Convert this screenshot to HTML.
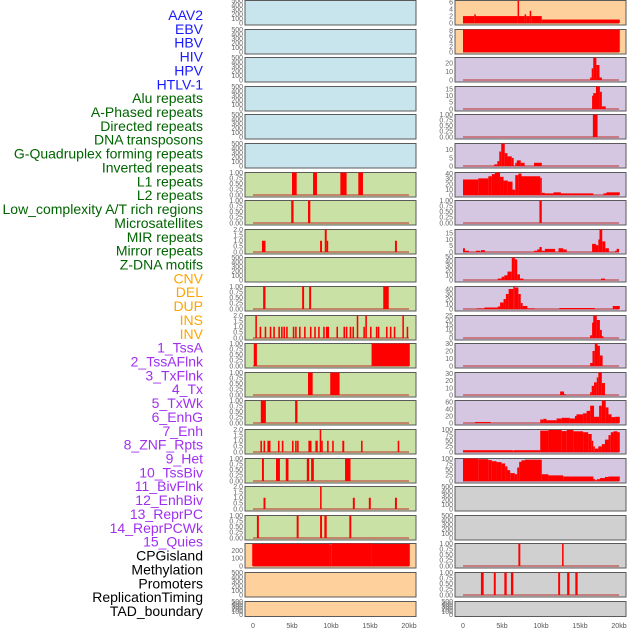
<!DOCTYPE html>
<html><head><meta charset="utf-8"><style>
html,body{margin:0;padding:0;background:#fff;}
svg{display:block;font-family:"Liberation Sans",sans-serif;}
</style></head><body>
<svg id="chart" width="630" height="630" viewBox="0 0 630 630"></svg>
<script>
const NS="http://www.w3.org/2000/svg";
const labels=["AAV2","EBV","HBV","HIV","HPV","HTLV-1","Alu repeats","A-Phased repeats","Directed repeats","DNA transposons","G-Quadruplex forming repeats","Inverted repeats","L1 repeats","L2 repeats","Low_complexity A/T rich regions","Microsatellites","MIR repeats","Mirror repeats","Z-DNA motifs","CNV","DEL","DUP","INS","INV","1_TssA","2_TssAFlnk","3_TxFlnk","4_Tx","5_TxWk","6_EnhG","7_Enh","8_ZNF_Rpts","9_Het","10_TssBiv","11_BivFlnk","12_EnhBiv","13_ReprPC","14_ReprPCWk","15_Quies","CPGisland","Methylation","Promoters","ReplicationTiming","TAD_boundary"];
const labelGroups=[6,13,5,15,5];
const groupColors=["#1a1aff","#006400","#ffa500","#a030f0","#000000"];
const xTicks=[0,5,10,15,20];
const xTickLabels=["0","5kb","10kb","15kb","20kb"];
const m7=[[5.0,5.6,1],[7.7,8.2,1],[11.2,12.0,1],[13.5,14.1,1]];
const m8=[[4.9,5.2,1],[7.05,7.35,1]];
const m9=[[1.15,1.6,1],[8.6,8.85,1],[9.2,9.45,2],[9.45,9.6,1],[18.2,18.45,1]];
const m11=[[1.3,1.6,1],[6.3,6.55,1],[7.2,7.45,1],[16.7,17.4,1]];
const m12=[[0.3,0.5,2],[0.85,1.05,1],[1.5,1.7,1],[2.15,2.35,1],[2.6,2.8,1],[3.25,3.45,1],[3.6,3.8,1],[3.9,4.1,1],[4.25,4.45,1],[5.1,5.3,1],[5.4,5.6,1],[5.9,6.1,1],[6.55,6.75,1],[7.3,7.5,1],[7.85,8.05,1],[8.35,8.55,1],[9.0,9.2,1],[9.35,9.55,1],[9.55,9.75,1],[10.7,10.9,1],[11.6,11.8,1],[11.9,12.1,1],[12.4,12.6,1],[12.75,12.95,1],[13.3,13.5,2],[14.15,14.35,1],[14.4,14.6,2],[15.0,15.2,1],[15.75,15.95,1],[16.0,16.2,1],[17.05,17.25,1],[17.55,17.75,1],[18.05,18.25,1],[19.15,19.35,2],[19.7,19.9,1]];
const m13=[[0.1,0.5,1],[15.2,20.1,1]];
const m14=[[7.05,7.65,1],[9.9,11.1,1]];
const m15=[[1.0,1.65,1],[5.4,5.7,1]];
const m16=[[0.95,1.15,1],[1.35,1.55,1],[1.85,2.05,1],[2.05,2.2,1],[3.2,3.4,1],[3.7,3.9,1],[5.0,5.2,1],[5.4,5.6,1],[5.65,5.85,1],[7.1,7.5,1],[8.0,8.3,1],[8.55,8.75,2],[8.75,8.85,1],[9.5,9.7,1],[10.15,10.35,1],[11.45,11.7,1],[13.85,14.05,1],[18.55,18.75,1]];
const m17=[[1.15,1.4,1],[2.95,3.45,1],[4.2,4.55,1],[6.9,7.2,1],[7.45,7.8,1],[11.8,12.5,1]];
const m18=[[1.35,1.6,1],[8.6,8.8,2],[12.8,13.05,1],[14.85,15.1,1],[18.2,18.45,1]];
const m19=[[0.5,0.75,1],[5.6,5.85,1],[8.6,8.85,1],[9.15,9.45,1],[12.35,12.6,1]];
const m20=[[-0.1,9.8,285],[9.8,10.1,280],[10.1,15.2,290],[15.2,20.1,285]];
const r1=[[0,1.45,2],[1.45,1.6,2.5],[1.6,7.0,2],[7.0,7.15,6.5],[7.15,7.9,2],[7.9,8.1,2.5],[8.1,8.55,2],[8.55,8.75,3.5],[8.75,10.1,2],[10.1,20.1,1]];
const r2=[[0,20.1,8.5]];
const r3=[[16.3,16.5,3],[16.5,16.7,14],[16.7,17.1,27],[17.1,17.5,18],[17.5,17.8,3]];
const r4=[[16.55,16.7,10],[16.7,17.05,12],[17.05,17.55,17],[17.55,17.8,13],[17.8,18.3,2]];
const r5=[[16.65,17.25,1]];
const r6=[[4.0,4.4,1],[4.4,4.65,3],[4.65,4.9,9],[4.9,5.35,14],[5.35,5.7,8],[5.7,6.25,6],[6.25,6.5,5],[6.7,6.9,2],[6.9,7.4,3.5],[7.4,7.9,2],[9.1,10.1,2]];
const r7=[[0,1.95,29],[1.95,3.25,31],[3.25,3.7,35],[3.7,4.1,39],[4.1,4.75,42],[4.75,5.2,34],[5.2,5.75,27],[5.75,6.35,25],[6.35,6.7,10],[6.7,7.1,37],[7.1,7.5,40],[7.5,9.9,35],[9.9,10.1,32],[10.1,10.5,4],[10.5,11.6,3],[11.6,12.55,5],[12.55,16.7,3],[18.0,18.4,3],[18.4,20.1,5]];
const r8=[[9.8,10.1,1]];
const r9=[[0,0.25,3],[0.25,0.75,1],[1.65,2.2,1],[2.3,2.8,1.5],[9.1,9.5,1],[9.5,9.8,2],[9.8,10.1,4],[10.1,10.5,1],[10.5,11.8,2.5],[12.25,12.85,3],[12.85,13.3,2],[16.55,17.05,6.5],[17.05,17.35,5.5],[17.35,17.5,10],[17.5,17.85,18],[17.85,18.25,8.5],[18.25,18.7,3],[19.5,19.7,1],[19.7,20.0,2.5]];
const r10=[[4.45,4.95,3],[4.95,5.3,7],[5.3,5.7,10],[5.7,6.25,18],[6.25,6.65,48],[6.65,6.95,44],[6.95,7.3,12],[7.3,7.75,3],[17.7,18.2,3]];
const r11=[[1.75,2.75,1],[2.75,4.45,3],[4.45,4.75,5],[4.75,5.2,13],[5.2,5.5,20],[5.5,5.85,30],[5.85,6.45,40],[6.45,6.65,45],[6.65,7.1,43],[7.1,7.4,30],[7.4,7.65,12],[7.65,8.25,6],[8.25,9.2,1],[12.35,16.9,2],[19.2,20.1,6]];
const r12=[[16.3,16.55,3],[16.55,16.7,17],[16.7,17.15,25],[17.15,17.55,20],[17.55,17.8,9],[17.8,17.9,2]];
const r13=[[16.3,16.6,4],[16.6,16.9,20],[16.9,17.25,30],[17.25,17.55,27],[17.55,17.9,14]];
const r14=[[12.45,12.95,5],[12.95,13.2,1],[16.3,16.5,4],[16.5,16.8,13],[16.8,17.15,18],[17.15,17.35,25],[17.35,17.8,32],[17.8,18.2,17]];
const r15=[[1.55,3.55,3],[9.9,10.3,10],[10.3,10.7,12],[10.7,12.0,8],[12.0,12.65,13],[12.65,13.7,15],[13.7,14.35,13],[14.35,14.55,20],[14.55,15.4,25],[15.4,15.85,28],[15.85,16.3,35],[16.3,16.8,50],[16.8,17.45,18],[17.45,17.8,50],[17.8,18.3,65],[18.3,18.65,45],[18.65,19.05,25],[19.05,19.5,17],[19.5,20.1,18]];
const r16=[[0,6.4,8],[6.4,6.5,5],[6.5,9.9,8],[9.9,10.95,95],[10.95,12.65,98],[12.65,13.3,93],[13.3,14.15,98],[14.15,15.4,92],[15.4,16.05,88],[16.05,16.5,80],[16.5,16.7,50],[16.7,16.9,25],[16.9,17.35,15],[17.35,17.8,25],[17.8,18.2,35],[18.2,18.65,55],[18.65,18.95,75],[18.95,19.3,88],[19.3,19.8,92],[19.8,20.1,88]];
const r17=[[0,1.95,100],[1.95,3.25,97],[3.25,3.7,93],[3.7,4.3,88],[4.3,4.95,84],[4.95,5.4,78],[5.4,5.7,65],[5.7,6.05,48],[6.05,6.65,35],[6.65,6.95,30],[6.95,7.2,60],[7.2,7.5,85],[7.5,7.95,92],[7.95,10.1,95],[10.1,10.95,30],[10.95,12.85,25],[12.85,16.7,20],[16.7,16.9,10],[16.9,17.15,3],[17.15,17.55,8],[17.55,18.2,13],[18.2,18.65,18],[18.65,20.1,20]];
const r20=[[7.1,7.35,1],[12.7,12.9,1]];
const r21=[[2.3,2.65,1],[3.95,4.2,1],[5.3,5.6,1],[6.15,6.45,1],[12.2,12.45,1],[13.35,13.65,1],[14.4,14.7,1]];

const C={blue:"#c8e4ec",green:"#c9e1a5",orange:"#fdd09c",purple:"#d5c6e2",gray:"#d0d0d0"};
const T1=[0,0.25,0.5,0.75,1],T1L=["0.00","0.25","0.50","0.75","1.00"];
const T2=[0,0.5,1,1.5,2],T2L=["0.0","0.5","1.0","1.5","2.0"];
const T5=[0,100,200,300,400,500],T5L=T5.map(String);
const mid=[
 ["blue",null,500,T5,T5L],["blue",null,500,T5,T5L],["blue",null,500,T5,T5L],["blue",null,500,T5,T5L],["blue",null,500,T5,T5L],["blue",null,500,T5,T5L],
 ["green",m7,1,T1,T1L],["green",m8,1,T1,T1L],["green",m9,2,T2,T2L],["green",null,500,T5,T5L],["green",m11,1,T1,T1L],["green",m12,2,T2,T2L],
 ["green",m13,1,T1,T1L],["green",m14,1,T1,T1L],["green",m15,1,T1,T1L],["green",m16,2,T2,T2L],["green",m17,1,T1,T1L],["green",m18,2,T2,T2L],["green",m19,1,T1,T1L],
 ["orange",m20,290,[0,100,200],["0","100","200"]],["orange",null,500,T5,T5L],["orange",null,500,T5,T5L]];
const right=[
 ["orange",r1,6.5,[0,2,4,6],["0","2","4","6"]],["orange",r2,8.5,[0,2,4,6,8],["0","2","4","6","8"]],
 ["purple",r3,27,[0,10,20],["0","10","20"]],["purple",r4,17,[0,5,10,15],["0","5","10","15"]],["purple",r5,1,T1,T1L],
 ["purple",r6,14,[0,5,10],["0","5","10"]],["purple",r7,42,[0,10,20,30,40],["0","10","20","30","40"]],["purple",r8,1,T1,T1L],
 ["purple",r9,18,[0,5,10,15],["0","5","10","15"]],["purple",r10,48,[0,10,20,30,40,50],["0","10","20","30","40","50"]],
 ["purple",r11,45,[0,10,20,30,40],["0","10","20","30","40"]],["purple",r12,25,[0,5,10,15,20,25],["0","5","10","15","20","25"]],
 ["purple",r13,30,[0,10,20,30],["0","10","20","30"]],["purple",r14,32,[0,10,20,30],["0","10","20","30"]],
 ["purple",r15,65,[0,20,40,60],["0","20","40","60"]],["purple",r16,100,[0,25,50,75,100],["0","25","50","75","100"]],
 ["purple",r17,100,[0,25,50,75,100],["0","25","50","75","100"]],
 ["gray",null,500,T5,T5L],["gray",null,500,T5,T5L],["gray",r20,1,T1,T1L],["gray",r21,1,T1,T1L],["gray",null,500,T5,T5L]];

const svg=document.getElementById("chart");
function el(tag,attrs,parent){const e=document.createElementNS(NS,tag);for(const k in attrs)e.setAttribute(k,attrs[k]);(parent||svg).appendChild(e);return e;}

let gi=0,cnt=0;
labels.forEach((s,i)=>{
  while(cnt>=labelGroups[gi]){cnt-=labelGroups[gi];gi++;}
  const t=el("text",{x:203,y:20+i*13.86,"text-anchor":"end","font-size":"14",fill:groupColors[gi]});
  
  
  t.textContent=s;cnt++;
});

function drawCol(col,px0,name){
  const pxPerKb=7.8, zeroX=px0+8, left=px0, w=171;
  const xs=kb=>zeroX+kb*pxPerKb;
  col.forEach((p,i)=>{
    const [bg,data,ymax,ticks,tl]=p;
    const top=Math.round(28.6*i), h=(i===21)?15:24.5;
    const y0=top+h-1.5, y1=top+0.5;
    const ys=v=>y0-(v/ymax)*(y0-y1);
    const g=el("g",{});
    
    
    el("rect",{x:left,y:top+0.5,width:w,height:h,fill:C[bg],stroke:"#5a5a5a","stroke-width":1},g);
    if(data){
      el("line",{x1:xs(0),x2:xs(20),y1:y0,y2:y0,stroke:"rgba(190,60,60,0.55)","stroke-width":2},g);
      data.forEach(d=>{
        const r=el("rect",{x:xs(d[0]),y:ys(d[2]),width:Math.max(1.5,xs(d[1])-xs(d[0])),height:Math.max(0,y0-ys(d[2])),fill:"#ff0000"},g);
        
        
      });
    }
    ticks.forEach((v,j)=>{
      const t=el("text",{x:left-2,y:ys(v)+2.3,"text-anchor":"end","font-size":"7",fill:"#666"},g);
      
      
      t.textContent=tl[j];
    });
  });
  xTicks.forEach((v,j)=>{
    const t=el("text",{x:xs(v),y:628,"text-anchor":"middle","font-size":"7",fill:"#555"});
    
    
    t.textContent=xTickLabels[j];
  });
}
drawCol(mid,245,"middle");
drawCol(right,455,"right");
</script>
</body></html>
